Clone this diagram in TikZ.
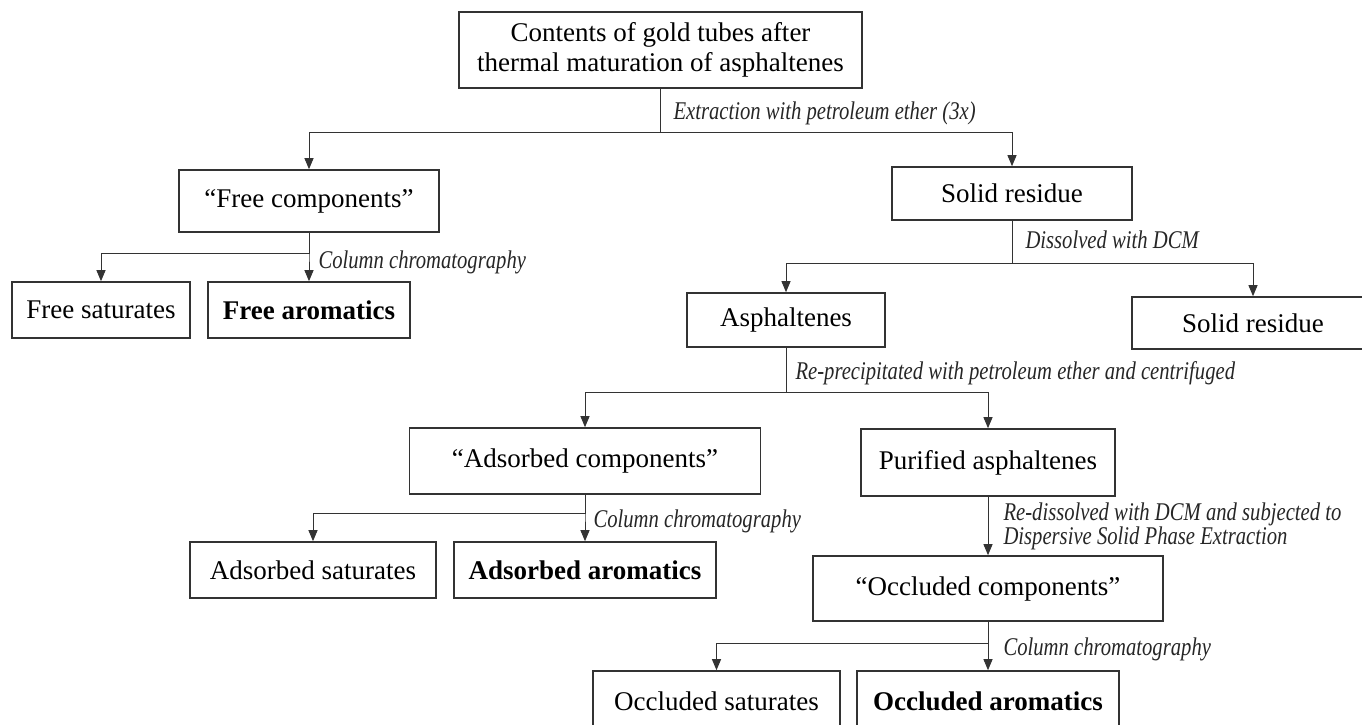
\documentclass[tikz,border=0pt]{standalone}
\usepackage{fontspec}
\setmainfont{Liberation Serif}
\newfontfamily\notefont[FakeStretch=0.81]{Liberation Serif}
\usetikzlibrary{arrows.meta}

\begin{document}
\begin{tikzpicture}[x=1pt,y=-1pt,>={Triangle[length=11pt,width=9pt]},
  line width=1pt,color=black!80,
  main node/.style={rectangle,draw,line width=1.6pt,inner sep=0pt,align=center,text=black,font=\fontsize{27}{30}\selectfont},
  bold node/.style={main node,font=\fontsize{27}{30}\selectfont\bfseries},
  note node/.style={anchor=west,inner sep=0pt,align=left,text=black!85,font=\notefont\fontsize{25.5}{24}\selectfont\itshape}]
  \useasboundingbox (0,0) rectangle (1362,725);
  \clip (0,0) rectangle (1362,725);

  \node[main node,minimum width=403pt,minimum height=76pt] (1) at (660.5,50) {Contents of gold tubes after\\thermal maturation of asphaltenes};
  \node[main node,minimum width=260pt,minimum height=62pt] (2) at (309,201) {“Free components”};
  \node[main node,minimum width=240pt,minimum height=53pt] (3) at (1012,193.5) {Solid residue};
  \node[main node,minimum width=178pt,minimum height=56pt] (4) at (101,310) {Free saturates};
  \node[bold node,minimum width=202pt,minimum height=56pt] (5) at (309,310) {Free aromatics};
  \node[main node,minimum width=198pt,minimum height=54pt] (6) at (786,320) {Asphaltenes};
  \node[main node,minimum width=242pt,minimum height=52pt] (7) at (1253,323) {Solid residue};
  \node[main node,minimum width=351pt,minimum height=66pt] (8) at (585,461) {“Adsorbed components”};
  \node[main node,minimum width=254pt,minimum height=67pt] (9) at (988,462.5) {Purified asphaltenes};
  \node[main node,minimum width=246pt,minimum height=56pt] (10) at (313,570) {Adsorbed saturates};
  \node[bold node,minimum width=262pt,minimum height=56pt] (11) at (585,570) {Adsorbed aromatics};
  \node[main node,minimum width=350pt,minimum height=65pt] (12) at (988,588.5) {“Occluded components”};
  \node[main node,minimum width=247pt,minimum height=60pt] (13) at (716.5,701) {Occluded saturates};
  \node[bold node,minimum width=262pt,minimum height=60pt] (14) at (988,701) {Occluded aromatics};

  % step labels
  \node[note node] (n1) at (673,113) {Extraction with petroleum ether (3x)};
  \node[note node] (n2) at (318,262) {Column chromatography};
  \node[note node] (n3) at (1025,240) {Dissolved with DCM};
  \node[note node] (n4) at (795,373) {Re-precipitated with petroleum ether and centrifuged};
  \node[note node] (n5) at (593,521) {Column chromatography};
  \node[note node] (n6) at (1003,526) {Re-dissolved with DCM and subjected to\\Dispersive Solid Phase Extraction};
  \node[note node] (n7) at (1003,649) {Column chromatography};

  \draw[->] (1.south) -- ++(0,44) -| (2.north);
  \draw[->] (1.south) -- ++(0,44) -| (3.north);
  \draw[->] (2.south) -- ++(0,21) -| (4.north);
  \draw[->] (2.south) -- ++(0,21) -| (5.north);
  \draw[->] (3.south) -- ++(0,43) -| (6.north);
  \draw[->] (3.south) -- ++(0,43) -| (7.north);
  \draw[->] (6.south) -- ++(0,45) -| (8.north);
  \draw[->] (6.south) -- ++(0,45) -| (9.north);
  \draw[->] (8.south) -- ++(0,19) -| (10.north);
  \draw[->] (8.south) -- ++(0,19) -| (11.north);
  \draw[->] (9) -- (12);
  \draw[->] (12.south) -- ++(0,22) -| (13.north);
  \draw[->] (12.south) -- ++(0,22) -| (14.north);
\end{tikzpicture}
\end{document}
